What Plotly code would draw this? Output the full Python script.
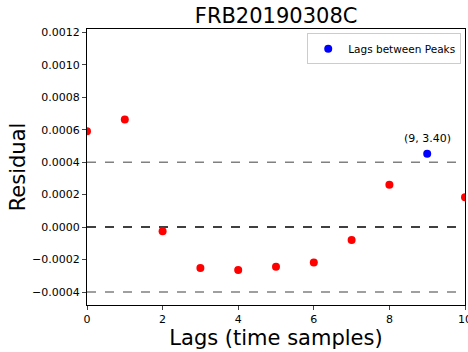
import plotly.graph_objects as go

lags = [0, 1, 2, 3, 4, 5, 6, 7, 8, 10]
residuals = [0.00059, 0.000663, -0.000025, -0.000252, -0.000264, -0.000245, -0.000218, -0.00008, 0.000261, 0.000184]
peak_lag = [9]
peak_residual = [0.000451]
peak_label = "(9, 3.40)"
threshold = 0.0004
y_ticks = [-0.0004, -0.0002, 0.0, 0.0002, 0.0004, 0.0006, 0.0008, 0.0010, 0.0012]
x_ticks = [0, 2, 4, 6, 8, 10]

font = "DejaVu Sans, Arial, sans-serif"

fig = go.Figure()
fig.add_trace(go.Scatter(x=lags, y=residuals, mode="markers",
                         marker=dict(color="red", size=8), showlegend=False))
fig.add_trace(go.Scatter(x=peak_lag, y=peak_residual, mode="markers",
                         marker=dict(color="blue", size=8), name="Lags between Peaks"))

for yv, col in [(threshold, "gray"), (-threshold, "gray"), (0.0, "black")]:
    fig.add_shape(type="line", xref="paper", x0=0, x1=1, yref="y", y0=yv, y1=yv,
                  line=dict(color=col, width=1.5, dash="dash"), layer="below")

fig.add_annotation(x=peak_lag[0], y=peak_residual[0], text=peak_label, showarrow=False,
                   yshift=15, font=dict(size=11, color="black", family=font))

fig.update_layout(
    width=468, height=352,
    margin=dict(l=87, r=3, t=29, b=47),
    paper_bgcolor="white", plot_bgcolor="white",
    font=dict(family=font, color="black"),
    title=dict(text="FRB20190308C", x=0.59, xanchor="center", y=0.955, yanchor="middle",
               font=dict(size=21, family=font, color="black")),
    legend=dict(x=0.99, y=0.985, xanchor="right", yanchor="top",
                bgcolor="white", bordercolor="#cccccc", borderwidth=1,
                font=dict(size=10.5, family=font), itemwidth=30),
    xaxis=dict(range=[0, 10], tickvals=x_ticks, showgrid=False, zeroline=False,
               showline=True, linecolor="black", linewidth=1, mirror=True,
               ticks="outside", ticklen=4, tickfont=dict(size=11),
               ticklabeloverflow="allow", automargin=False,
               title=dict(text="Lags (time samples)", font=dict(size=21), standoff=4)),
    yaxis=dict(range=[-0.00048, 0.00122], tickvals=y_ticks, tickformat=".4f",
               showgrid=False, zeroline=False,
               showline=True, linecolor="black", linewidth=1, mirror=True,
               ticks="outside", ticklen=4, tickfont=dict(size=11),
               title=dict(text="Residual", font=dict(size=21), standoff=0)),
)

fig.write_html("out.html")
